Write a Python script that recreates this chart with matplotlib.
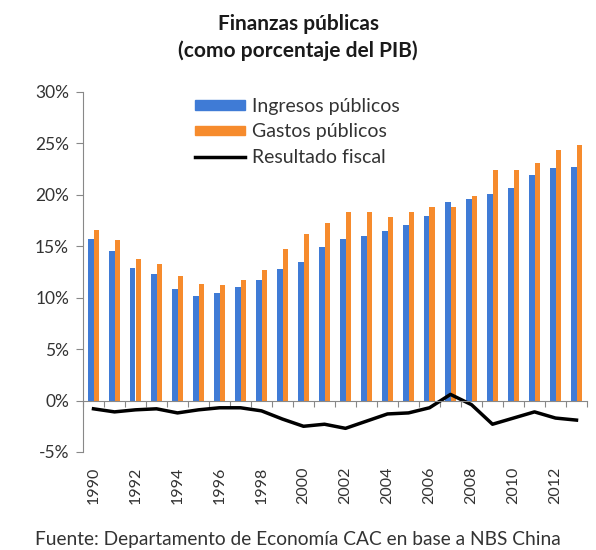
import numpy as np
import matplotlib
matplotlib.use("Agg")
import matplotlib.pyplot as plt
from matplotlib.lines import Line2D
from matplotlib.patches import Patch

plt.rcParams['font.family'] = ['Lato', 'DejaVu Sans']

years = list(range(1990, 2014))
ingresos = [15.7, 14.5, 12.9, 12.3, 10.8, 10.2, 10.5, 11.0, 11.7, 12.8, 13.5, 14.9,
            15.7, 16.0, 16.5, 17.1, 17.9, 19.3, 19.6, 20.1, 20.7, 21.9, 22.6, 22.7]
gastos = [16.6, 15.6, 13.8, 13.3, 12.1, 11.3, 11.2, 11.7, 12.7, 14.7, 16.2, 17.3,
          18.3, 18.3, 17.8, 18.3, 18.8, 18.8, 19.9, 22.4, 22.4, 23.1, 24.4, 24.8]
resultado = [-0.8, -1.1, -0.9, -0.8, -1.2, -0.9, -0.7, -0.7, -1.0, -1.8, -2.5, -2.3,
             -2.7, -2.0, -1.3, -1.2, -0.7, 0.6, -0.4, -2.3, -1.7, -1.1, -1.7, -1.9]
yticks = [-5, 0, 5, 10, 15, 20, 25, 30]

blue = '#3f7bd6'
orange = '#f68b2d'
txt = '#333333'

fig = plt.figure(figsize=(5.96, 5.5), dpi=100)
ax = fig.add_axes([83/596, 1-452/550, (587-83)/596, (452-92)/550])

x = np.arange(len(years))
w = 0.285
ax.bar(x - w/2, ingresos, w, color=blue)
ax.bar(x + w/2, gastos, w, color=orange)
ax.plot(x, resultado, color='black', lw=2.5)

ax.set_xlim(-0.5, len(years) - 0.5)
ax.set_ylim(-5, 30)
ax.set_yticks(yticks)
ax.set_yticklabels([f'{v}%' for v in yticks], fontsize=12.5, color=txt)
ax.tick_params(axis='y', direction='out', length=5, color='#888888', pad=5)

ax.spines['top'].set_visible(False)
ax.spines['right'].set_visible(False)
ax.spines['left'].set_color('#888888')
ax.spines['bottom'].set_position(('data', 0))
ax.spines['bottom'].set_color('#888888')
ax.set_xticks(np.arange(-0.5, len(years), 1))
ax.set_xticklabels([])
ax.tick_params(axis='x', direction='out', length=4, color='#888888')

for i, y in enumerate(years):
    if y % 2 == 0:
        ax.text(i, -6.4, str(y), rotation=90, ha='center', va='top',
                fontsize=11.5, color=txt)

handles = [Patch(color=blue), Patch(color=orange),
           Line2D([], [], color='black', lw=2.5)]
labels = ['Ingresos públicos', 'Gastos públicos', 'Resultado fiscal']
fig.legend(handles, labels, loc='upper left', bbox_to_anchor=(195/596, 1-98/550),
           frameon=False, fontsize=14, handlelength=2.55, handleheight=0.38,
           labelspacing=0.43, borderpad=0, borderaxespad=0, handletextpad=0.36,
           labelcolor=txt)

fig.text(0.5, 1-24/550, 'Finanzas públicas', ha='center', va='center',
         fontsize=15, fontweight='bold', color='#1a1a1a')
fig.text(0.5, 1-51/550, '(como porcentaje del PIB)', ha='center', va='center',
         fontsize=15, fontweight='bold', color='#1a1a1a')
fig.text(298/596, 1-539/550, 'Fuente: Departamento de Economía CAC en base a NBS China',
         ha='center', va='center', fontsize=13.8, color=txt)

fig.savefig('out.png', dpi=100, facecolor='white')
